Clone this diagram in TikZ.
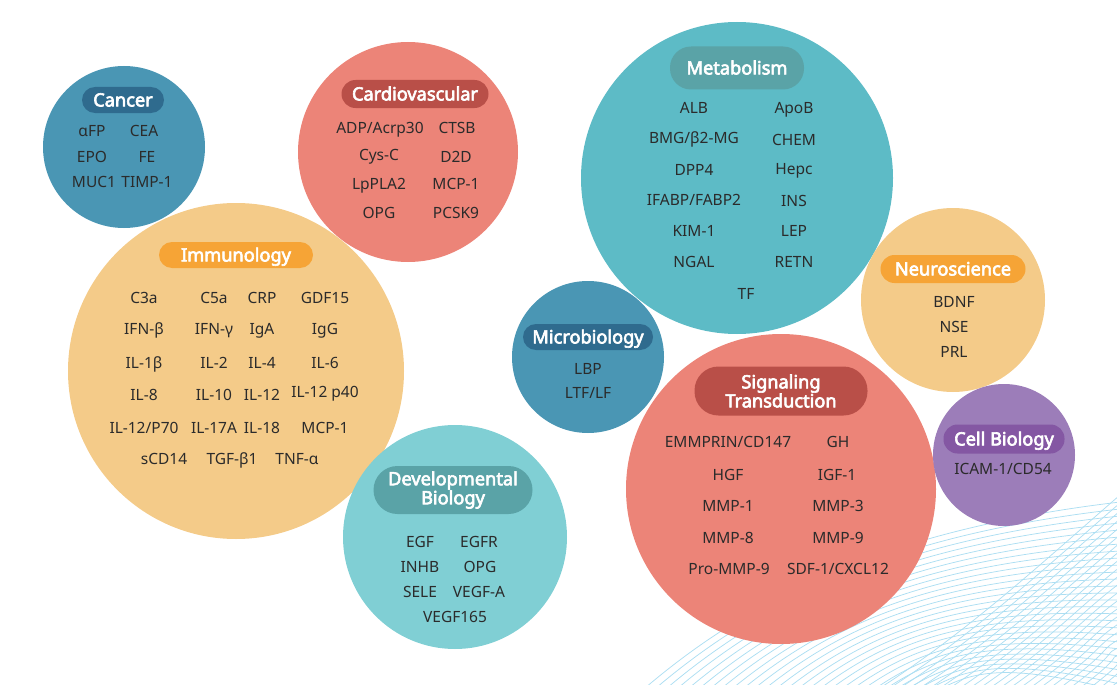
\documentclass[tikz,border=0pt]{standalone}
\usepackage{fontspec}
\setmainfont{Noto Sans}[AutoFakeBold=3.4]
\usepackage{tikz}
\usetikzlibrary{positioning}
\definecolor{bmblue}{RGB}{74,150,180}
\definecolor{bmbluedark}{RGB}{47,107,142}
\definecolor{bmsalmon}{RGB}{236,132,120}
\definecolor{bmsalmondark}{RGB}{185,79,72}
\definecolor{bmsand}{RGB}{244,203,137}
\definecolor{bmorange}{RGB}{246,164,54}
\definecolor{bmteal}{RGB}{93,187,198}
\definecolor{bmtealdark}{RGB}{90,163,167}
\definecolor{bmaqua}{RGB}{128,207,212}
\definecolor{bmviolet}{RGB}{156,125,185}
\definecolor{bmvioletdark}{RGB}{132,87,163}
\definecolor{bmtext}{RGB}{43,43,43}
\definecolor{bmwave}{RGB}{172,222,242}
\tikzstyle{bubble} = [circle, inner sep=0pt, draw=none]
\tikzstyle{pill} = [rectangle, rounded corners=13pt, minimum height=26pt, inner sep=0pt, text=white, align=center, font=\bfseries\fontsize{18.2}{19}\selectfont]
\tikzstyle{item} = [inner sep=0pt, text height=11pt, text depth=0pt, text=bmtext, font=\fontsize{15.5}{18}\selectfont]
\tikzstyle{wave} = [line width=0.75pt, color=bmwave]

\begin{document}
\begin{tikzpicture}[x=1pt, y=-1pt]
\useasboundingbox (0,0) rectangle (1117,685);
% background lines
\begin{scope}
\clip (0,0) rectangle (1117,685);
\foreach \i in {0,...,27}
  \draw[wave] (645+11*\i,688) .. controls (760+8*\i,590+3*\i) and (900+4*\i,528+5*\i) .. (1120,502+7*\i);
\foreach \i in {0,...,26}
  \draw[wave] (880+10*\i,688) .. controls (970+8*\i,630+\i) and (1045+3*\i,560+5*\i) .. (1120,495+8*\i);
\end{scope}
% circles
\node[bubble, fill=bmblue, minimum size=162pt] (cancer) at (124,147) {};
\node[bubble, fill=bmsalmon, minimum size=220pt] (cardio) at (408,152) {};
\node[bubble, fill=bmsand, minimum size=336pt] (immuno) at (236,371) {};
\node[bubble, fill=bmteal, minimum size=312pt] (metab) at (737,178) {};
\node[bubble, fill=bmsand, minimum size=184pt] (neuro) at (953,300) {};
\node[bubble, fill=bmblue, minimum size=152pt] (micro) at (588,357) {};
\node[bubble, fill=bmaqua, minimum size=224pt] (devel) at (455,537) {};
\node[bubble, fill=bmsalmon, minimum size=310pt] (signal) at (781,489) {};
\node[bubble, fill=bmviolet, minimum size=142pt] (cell) at (1004,455) {};
% labels
\node[pill, fill=bmbluedark, minimum width=82pt, text height=12.8pt, text depth=0pt] (cancer-lbl) at (123,100) {Cancer};
\node[pill, fill=bmsalmondark, minimum width=147pt, minimum height=28pt, rounded corners=14pt, text height=12.8pt, text depth=0pt] (cardio-lbl) at (415,94) {Cardiovascular};
\node[pill, fill=bmorange, minimum width=154pt, text height=12.8pt, text depth=0pt] (immuno-lbl) at (236,255) {Immunology};
\node[pill, fill=bmtealdark, minimum width=134pt, minimum height=43pt, rounded corners=21pt, text height=12.8pt, text depth=0pt] (metab-lbl) at (737,68) {Metabolism};
\node[pill, fill=bmorange, minimum width=145pt, minimum height=28pt, rounded corners=14pt, text height=12.8pt, text depth=0pt] (neuro-lbl) at (953,269) {Neuroscience};
\node[pill, fill=bmbluedark, minimum width=130pt, text height=12.8pt, text depth=0pt] (micro-lbl) at (588,337) {Microbiology};
\node[pill, fill=bmtealdark, minimum width=159pt, minimum height=48pt, rounded corners=24pt] (devel-lbl) at (453,490) {Developmental\\Biology};
\node[pill, fill=bmsalmondark, minimum width=173pt, minimum height=49pt, rounded corners=24pt] (signal-lbl) at (781,391) {Signaling\\Transduction};
\node[pill, fill=bmvioletdark, minimum width=121pt, minimum height=29pt, rounded corners=14pt, text height=12.8pt, text depth=0pt] (cell-lbl) at (1004,439) {Cell Biology};
% cancer
\node[item] (can-afp) at (92,131) {αFP};
\node[item] (can-cea) at (144,131) {CEA};
\node[item] (can-epo) at (92,157) {EPO};
\node[item] (can-fe) at (147,157) {FE};
\node[item] (can-muc) at (94,182) {MUC1};
\node[item] (can-timp) at (147,182) {TIMP-1};
% cardiovascular
\node[item] (car-adp) at (380,128) {ADP/Acrp30};
\node[item] (car-ctsb) at (457,128) {CTSB};
\node[item] (car-cys) at (379,155) {Cys-C};
\node[item] (car-d2d) at (456,157) {D2D};
\node[item] (car-lppla) at (379,184) {LpPLA2};
\node[item] (car-mcp) at (456,184) {MCP-1};
\node[item] (car-opg) at (379,213) {OPG};
\node[item] (car-pcsk) at (456,213) {PCSK9};
% immunology
\node[item] (imm-c3a) at (144,298) {C3a};
\node[item] (imm-c5a) at (214,298) {C5a};
\node[item] (imm-crp) at (262,298) {CRP};
\node[item] (imm-gdf) at (325,298) {GDF15};
\node[item] (imm-ifnb) at (144,329) {IFN-β};
\node[item] (imm-ifng) at (214,329) {IFN-γ};
\node[item] (imm-iga) at (262,329) {IgA};
\node[item] (imm-igg) at (325,329) {IgG};
\node[item] (imm-il1) at (144,363) {IL-1β};
\node[item] (imm-il2) at (214,363) {IL-2};
\node[item] (imm-il4) at (262,363) {IL-4};
\node[item] (imm-il6) at (325,363) {IL-6};
\node[item] (imm-il8) at (144,395) {IL-8};
\node[item] (imm-il10) at (214,395) {IL-10};
\node[item] (imm-il12) at (262,395) {IL-12};
\node[item] (imm-p40) at (325,392) {IL-12 p40};
\node[item] (imm-p70) at (144,428) {IL-12/P70};
\node[item] (imm-il17) at (214,428) {IL-17A};
\node[item] (imm-il18) at (262,428) {IL-18};
\node[item] (imm-mcp) at (325,428) {MCP-1};
\node[item] (imm-scd) at (164,459) {sCD14};
\node[item] (imm-tgf) at (232,459) {TGF-β1};
\node[item] (imm-tnf) at (297,459) {TNF-α};
% metabolism
\node[item] (met-alb) at (694,108) {ALB};
\node[item] (met-apob) at (794,108) {ApoB};
\node[item] (met-bmg) at (694,138) {BMG/β2-MG};
\node[item] (met-chem) at (794,140) {CHEM};
\node[item] (met-dpp) at (694,170) {DPP4};
\node[item] (met-hepc) at (794,169) {Hepc};
\node[item] (met-ifabp) at (694,200) {IFABP/FABP2};
\node[item] (met-ins) at (794,201) {INS};
\node[item] (met-kim) at (694,231) {KIM-1};
\node[item] (met-lep) at (794,231) {LEP};
\node[item] (met-ngal) at (694,262) {NGAL};
\node[item] (met-retn) at (794,262) {RETN};
\node[item] (met-tf) at (746,294) {TF};
% neuroscience
\node[item] (neu-bdnf) at (954,302) {BDNF};
\node[item] (neu-nse) at (954,327) {NSE};
\node[item] (neu-prl) at (954,352) {PRL};
% microbiology
\node[item] (mic-lbp) at (588,369) {LBP};
\node[item] (mic-ltf) at (588,393) {LTF/LF};
% developmental biology
\node[item] (dev-egf) at (420,542) {EGF};
\node[item] (dev-egfr) at (479,542) {EGFR};
\node[item] (dev-inhb) at (420,567) {INHB};
\node[item] (dev-opg) at (480,567) {OPG};
\node[item] (dev-sele) at (420,592) {SELE};
\node[item] (dev-vegfa) at (479,592) {VEGF-A};
\node[item] (dev-vegf) at (455,617) {VEGF165};
% signaling transduction
\node[item] (sig-emm) at (728,442) {EMMPRIN/CD147};
\node[item] (sig-gh) at (838,442) {GH};
\node[item] (sig-hgf) at (728,475) {HGF};
\node[item] (sig-igf) at (837,475) {IGF-1};
\node[item] (sig-mmp1) at (728,506) {MMP-1};
\node[item] (sig-mmp3) at (838,506) {MMP-3};
\node[item] (sig-mmp8) at (728,538) {MMP-8};
\node[item] (sig-mmp9) at (838,538) {MMP-9};
\node[item] (sig-pro) at (729,569) {Pro-MMP-9};
\node[item] (sig-sdf) at (838,569) {SDF-1/CXCL12};
% cell biology
\node[item] (cel-icam) at (1003,469) {ICAM-1/CD54};
\end{tikzpicture}
\end{document}
